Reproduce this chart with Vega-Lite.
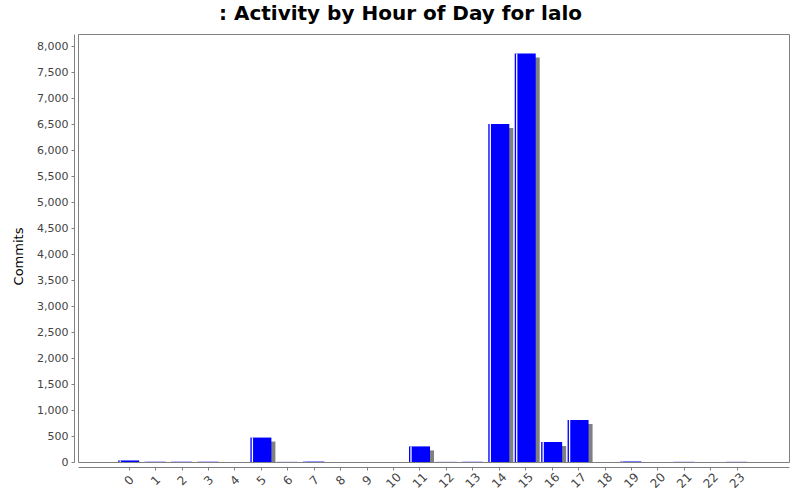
{
  "$schema": "https://vega.github.io/schema/vega-lite/v6.json",
  "autosize": {"type": "none"},
  "width": 711,
  "height": 428,
  "padding": {"left": 78, "top": 34, "right": 11, "bottom": 38},
  "background": "white",
  "title": {
    "text": ": Activity by Hour of Day for lalo",
    "font": "DejaVu Sans",
    "fontSize": 20,
    "fontWeight": "bold",
    "color": "black",
    "anchor": "middle",
    "dx": -33,
    "offset": 10
  },
  "config": {
    "view": {"stroke": "#808080", "strokeWidth": 1},
    "axis": {
      "labelFont": "DejaVu Sans",
      "labelFontSize": 11,
      "labelColor": "#444444",
      "titleFont": "DejaVu Sans",
      "titleFontSize": 13,
      "titleFontWeight": "normal",
      "titleColor": "black",
      "domainColor": "#808080",
      "tickColor": "#808080",
      "grid": false
    }
  },
  "data": {
    "values": [
      {"hour": 0, "commits": 30},
      {"hour": 1, "commits": 5},
      {"hour": 2, "commits": 5},
      {"hour": 3, "commits": 5},
      {"hour": 4, "commits": 0},
      {"hour": 5, "commits": 470},
      {"hour": 6, "commits": 2},
      {"hour": 7, "commits": 8},
      {"hour": 8, "commits": 0},
      {"hour": 9, "commits": 0},
      {"hour": 10, "commits": 0},
      {"hour": 11, "commits": 300},
      {"hour": 12, "commits": 2},
      {"hour": 13, "commits": 4},
      {"hour": 14, "commits": 6500},
      {"hour": 15, "commits": 7855},
      {"hour": 16, "commits": 385},
      {"hour": 17, "commits": 808},
      {"hour": 18, "commits": 0},
      {"hour": 19, "commits": 10},
      {"hour": 20, "commits": 0},
      {"hour": 21, "commits": 3},
      {"hour": 22, "commits": 0},
      {"hour": 23, "commits": 3}
    ]
  },
  "encoding": {
    "x": {
      "field": "hour",
      "type": "quantitative",
      "scale": {"domain": [-1.73, 24.79], "nice": false, "zero": false},
      "axis": {
        "title": null,
        "values": [0,1,2,3,4,5,6,7,8,9,10,11,12,13,14,15,16,17,18,19,20,21,22,23],
        "labelAngle": -45,
        "labelAlign": "center",
        "labelBaseline": "middle",
        "labelFontSize": 12,
        "offset": 5,
        "tickSize": 3,
        "labelPadding": 10
      }
    },
    "y": {
      "field": "commits",
      "type": "quantitative",
      "scale": {"domain": [0, 8231], "nice": false},
      "axis": {
        "title": "Commits",
        "titleY": 222,
        "values": [0,500,1000,1500,2000,2500,3000,3500,4000,4500,5000,5500,6000,6500,7000,7500,8000],
        "format": ",d",
        "offset": 4,
        "tickSize": 3,
        "labelPadding": 3,
        "titlePadding": 11
      }
    }
  },
  "layer": [
    {
      "mark": {"type": "bar", "color": "#808080", "size": 21, "xOffset": 4, "yOffset": 4, "clip": true}
    },
    {
      "mark": {"type": "bar", "color": "#0000ff", "size": 21}
    },
    {
      "mark": {"type": "bar", "color": "white", "size": 1.3, "xOffset": -8.5}
    }
  ]
}
